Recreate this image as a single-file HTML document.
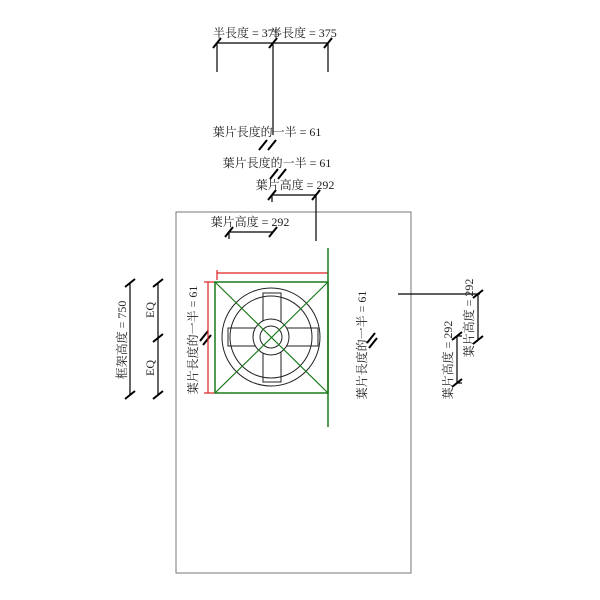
<!DOCTYPE html>
<html><head><meta charset="utf-8"><style>body{margin:0;background:#fff}svg{display:block}text{font-family:"Liberation Serif","Noto Serif CJK SC",serif;font-size:12px;fill:#222}</style></head><body>
<svg width="600" height="600" viewBox="0 0 600 600">
<rect x="176" y="212" width="235" height="361" fill="none" stroke="#777" stroke-width="1"/>
<g stroke="#000" stroke-width="1.2" fill="none">
<line x1="217" y1="43" x2="328" y2="43"/>
<line x1="217" y1="43" x2="217" y2="72"/><line x1="328" y1="43" x2="328" y2="72"/>
<line x1="273" y1="43" x2="273" y2="135"/>
<line x1="272" y1="195" x2="316" y2="195"/><line x1="272" y1="195" x2="272" y2="202"/><line x1="316" y1="195" x2="316" y2="241"/>
<line x1="229" y1="232" x2="273" y2="232"/><line x1="229" y1="232" x2="229" y2="239"/>
<line x1="130" y1="283" x2="130" y2="395"/><line x1="158" y1="283" x2="158" y2="395"/>
<line x1="398" y1="294" x2="480" y2="294"/><line x1="478" y1="294" x2="478" y2="340"/>
<line x1="457" y1="336" x2="457" y2="383"/>
<line x1="457" y1="336" x2="462" y2="336"/><line x1="457" y1="383" x2="462" y2="383"/>
</g>
<g stroke="#000" stroke-width="2">
<line x1="213" y1="48" x2="221" y2="38"/><line x1="269" y1="48" x2="277" y2="38"/><line x1="324" y1="48" x2="332" y2="38"/>
<line x1="259" y1="150" x2="267" y2="140"/><line x1="268" y1="150" x2="276" y2="140"/>
<line x1="270" y1="179" x2="278" y2="169"/><line x1="278" y1="179" x2="286" y2="169"/>
<line x1="268" y1="200" x2="276" y2="190"/><line x1="312" y1="200" x2="320" y2="190"/>
<line x1="225" y1="237" x2="233" y2="227"/><line x1="269" y1="237" x2="277" y2="227"/>
<line x1="125" y1="287" x2="135" y2="279"/><line x1="125" y1="399" x2="135" y2="391"/>
<line x1="153" y1="287" x2="163" y2="279"/><line x1="153" y1="342" x2="163" y2="334"/><line x1="153" y1="399" x2="163" y2="391"/>
<line x1="200" y1="341" x2="208" y2="331"/><line x1="203" y1="345" x2="211" y2="335"/>
<line x1="367" y1="343" x2="375" y2="333"/><line x1="369" y1="348" x2="377" y2="338"/>
<line x1="473" y1="298" x2="483" y2="290"/><line x1="473" y1="344" x2="483" y2="336"/>
<line x1="452" y1="340" x2="462" y2="332"/><line x1="452" y1="387" x2="462" y2="379"/>
</g>
<g stroke="#d22" stroke-width="1.2">
<line x1="217" y1="273" x2="328" y2="273"/><line x1="217" y1="270" x2="217" y2="280"/>
<line x1="208" y1="282" x2="208" y2="393"/><line x1="204" y1="282" x2="215" y2="282"/><line x1="204" y1="393" x2="215" y2="393"/>
</g>
<g stroke="#1a7a1a" stroke-width="1.5" fill="none">
<rect x="215" y="282" width="113" height="111"/>
<line x1="328" y1="248" x2="328" y2="427"/>
</g>
<g stroke="#222" stroke-width="1" fill="none">
<circle cx="271" cy="337" r="49"/><circle cx="271" cy="337" r="41"/>
<rect x="228" y="328" width="90" height="18"/><rect x="263" y="293" width="18" height="89"/>
<circle cx="271" cy="337" r="18" fill="#fff"/><circle cx="271" cy="337" r="11"/>
</g>
<g stroke="#1a7a1a" stroke-width="1.2"><line x1="215" y1="282" x2="328" y2="393"/><line x1="328" y1="282" x2="215" y2="393"/></g>
<text x="213" y="37">半長度 = 375</text><text x="270" y="37">半長度 = 375</text>
<text x="267" y="136" text-anchor="middle">葉片長度的一半 = 61</text>
<text x="277" y="167" text-anchor="middle">葉片長度的一半 = 61</text>
<text x="295" y="189" text-anchor="middle">葉片高度 = 292</text>
<text x="250" y="226" text-anchor="middle">葉片高度 = 292</text>
<text transform="translate(126,340) rotate(-90)" text-anchor="middle">框架高度 = 750</text>
<text transform="translate(154,310) rotate(-90)" text-anchor="middle">EQ</text>
<text transform="translate(154,368) rotate(-90)" text-anchor="middle">EQ</text>
<text transform="translate(197,340) rotate(-90)" text-anchor="middle">葉片長度的一半 = 61</text>
<text transform="translate(366,345) rotate(-90)" text-anchor="middle">葉片長度的一半 = 61</text>
<text transform="translate(473,318) rotate(-90)" text-anchor="middle">葉片高度 = 292</text>
<text transform="translate(452,360) rotate(-90)" text-anchor="middle">葉片高度 = 292</text>
</svg>
</body></html>
